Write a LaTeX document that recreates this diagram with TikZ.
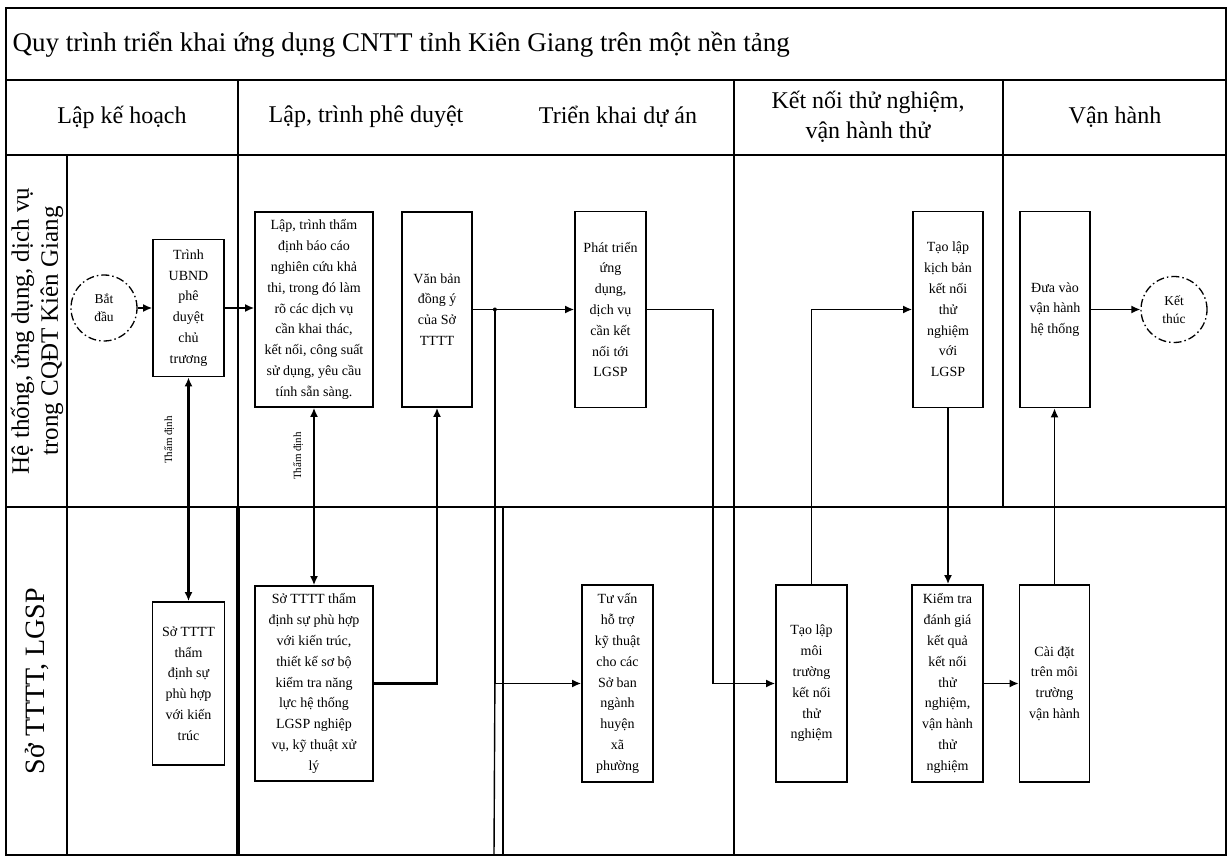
\documentclass[tikz,border=0pt]{standalone}
\usepackage{fontspec}
\setmainfont{Liberation Serif}
\usetikzlibrary{arrows.meta,calc}

\tikzset{
  frame/.style={line width=1.4pt, black},
  heavy/.style={line width=2.4pt, black},
  proc/.style={draw, line width=1.8pt, fill=white, align=center, inner sep=2pt,
    font=\fontsize{14}{20.8}\selectfont},
  term/.style={draw, circle, line width=1.3pt, dash pattern=on 8pt off 3pt on 1.5pt off 3pt,
    minimum size=66pt, align=center, inner sep=1pt, font=\fontsize{13.5}{18}\selectfont},
  arr/.style={line width=1.4pt, -{Latex[length=9pt,width=8pt]}},
  dbl/.style={line width=1.6pt, {Latex[length=9pt,width=8pt]}-{Latex[length=9pt,width=8pt]}},
  hdr/.style={align=center, font=\fontsize{24}{30}\selectfont},
  lane/.style={rotate=90, align=center, font=\fontsize{25}{29}\selectfont},
  note/.style={rotate=90, font=\fontsize{11}{12}\selectfont, inner sep=1pt},
}

\begin{document}
\begin{tikzpicture}[x=1pt, y=-1pt]
\useasboundingbox (0,0) rectangle (1228,858);
\fill[white] (0,0) rectangle (1228,858);

% table frame
\draw[frame] (6,8) rectangle (1226,855);
\draw[heavy] (6,80) -- (1226,80);
\draw[heavy] (6,155) -- (1226,155);
\draw[frame] (6,507) -- (1226,507);
\draw[heavy] (67,155) -- (67,855);
\draw[frame] (238,80) -- (238,507);
\draw[line width=3.2pt] (238,507) -- (238,855);
\draw[frame] (734,80) -- (734,855);
\draw[heavy] (1003,80) -- (1003,507);
\draw[frame] (503,507) -- (503,855);

% title and column headers
\node[anchor=west, font=\fontsize{27}{32}\selectfont] (title) at (9,45)
  {Quy trình triển khai ứng dụng CNTT tỉnh Kiên Giang trên một nền tảng};
\node[hdr] (h1) at (122,117) {Lập kế hoạch};
\node[hdr] (h2) at (366,117) {Lập, trình phê duyệt};
\node[hdr] (h3) at (618,117) {Triển khai dự án};
\node[hdr] (h4) at (868,117) {Kết nối thử nghiệm,\\ vận hành thử};
\node[hdr] (h5) at (1115,117) {Vận hành};

% lane labels
\node[lane] (l1) at (37,331) {Hệ thống, ứng dụng, dịch vụ\\ trong CQĐT Kiên Giang};
\node[lane, font=\fontsize{28}{32}\selectfont] (l2) at (37,681) {Sở TTTT, LGSP};

% upper lane
\node[term] (st) at (104,308) {Bắt\\ đầu};
\node[proc, minimum width=71pt, minimum height=137pt] (b1) at (188.5,308)
  {Trình\\ UBND\\ phê\\ duyệt\\ chủ\\ trương};
\node[proc, minimum width=118pt, minimum height=195pt] (b2) at (314,309.5)
  {Lập, trình thẩm\\ định báo cáo\\ nghiên cứu khả\\ thi, trong đó làm\\ rõ các dịch vụ\\ cần khai thác,\\ kết nối, công suất\\ sử dụng, yêu cầu\\ tính sẵn sàng.};
\node[proc, minimum width=70pt, minimum height=195pt] (b3) at (437,309.5)
  {Văn bản\\ đồng ý\\ của Sở\\ TTTT};
\node[proc, minimum width=71pt, minimum height=196pt] (b4) at (610.5,309.5)
  {Phát triển\\ ứng\\ dụng,\\ dịch vụ\\ cần kết\\ nối tới\\ LGSP};
\node[proc, minimum width=70pt, minimum height=196pt] (b5) at (948,309.5)
  {Tạo lập\\ kịch bản\\ kết nối\\ thử\\ nghiệm\\ với\\ LGSP};
\node[proc, minimum width=70pt, minimum height=196pt] (b6) at (1055,309.5)
  {Đưa vào\\ vận hành\\ hệ thống};
\node[term] (en) at (1174,309.5) {Kết\\ thúc};

% lower lane
\node[proc, minimum width=72pt, minimum height=163pt] (b7) at (188.5,683.5)
  {Sở TTTT\\ thẩm\\ định sự\\ phù hợp\\ với kiến\\ trúc};
\node[proc, minimum width=118pt, minimum height=195pt] (b8) at (314,683.5)
  {Sở TTTT thẩm\\ định sự phù hợp\\ với kiến trúc,\\ thiết kế sơ bộ\\ kiểm tra năng\\ lực hệ thống\\ LGSP nghiệp\\ vụ, kỹ thuật xử\\ lý};
\node[proc, minimum width=71pt, minimum height=197pt] (b9) at (617.5,683.5)
  {Tư vấn\\ hỗ trợ\\ kỹ thuật\\ cho các\\ Sở ban\\ ngành\\ huyện\\ xã\\ phường};
\node[proc, minimum width=71pt, minimum height=197pt] (b10) at (811.5,683.5)
  {Tạo lập\\ môi\\ trường\\ kết nối\\ thử\\ nghiệm};
\node[proc, minimum width=71pt, minimum height=197pt] (b11) at (947.5,683.5)
  {Kiểm tra\\ đánh giá\\ kết quả\\ kết nối\\ thử\\ nghiệm,\\ vận hành\\ thử\\ nghiệm};
\node[proc, minimum width=70pt, minimum height=197pt] (b12) at (1054.5,683.5)
  {Cài đặt\\ trên môi\\ trường\\ vận hành};

% connectors
\draw[arr] (st) -- (b1);
\draw[arr] (b1.east) -- (b1.east -| b2.west);
\draw[dbl, line width=2.2pt] (b1.south) -- (b7.north);
\draw[dbl] (b2.south) -- (b8.north);
\draw[arr] (b3) -- (b4);
\draw[arr] (b3.east) -- ++(22,0) coordinate (j1) |- (b9.west);
\coordinate (j1b) at (494,855);
\draw[line width=1.4pt] (j1 |- b9.west) -- (j1b);
\fill (j1) circle (2pt);
\draw[arr, line width=2.4pt] (b8.east) -| (b3.south);
\draw[arr] (b4.east) -- ++(66,0) |- (b10.west);
\draw[arr] (b10.north) |- (b5.west);
\draw[arr, line width=2pt] (b5.south) -- (b5.south |- b11.north);
\draw[arr] (b11) -- (b12);
\draw[arr] (b12.north) -- (b12.north |- b6.south);
\draw[arr] (b6) -- (en);

% connector labels
\node[note] (t1) at (169,440) {Thẩm định};
\node[note] (t2) at (298,456) {Thẩm định};
\end{tikzpicture}
\end{document}
